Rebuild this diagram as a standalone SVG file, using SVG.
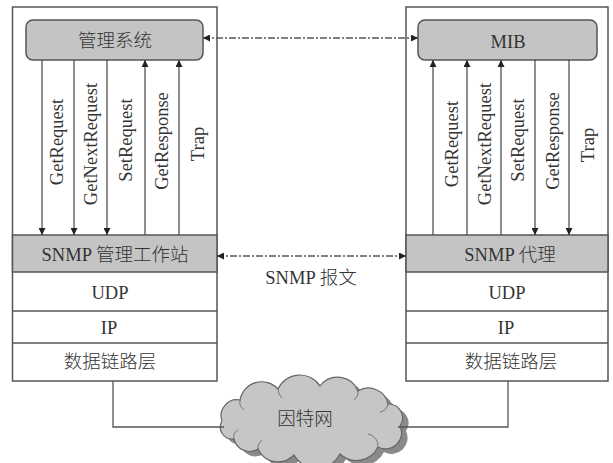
<svg xmlns="http://www.w3.org/2000/svg" width="613" height="463" viewBox="0 0 613 463">
<defs>
<marker id="ah" viewBox="0 0 10 10" refX="10" refY="5" markerWidth="7" markerHeight="7" markerUnits="userSpaceOnUse" orient="auto-start-reverse"><path d="M0,0 L10,5 L0,10 Z" fill="#222"/></marker>
<style>
.box{fill:#fff;stroke:#555;stroke-width:1.5}
.gray{fill:#c4c4c4;stroke:#555;stroke-width:1.5}
.ln{stroke:#555;stroke-width:1.3;fill:none}
.ar{stroke:#444;stroke-width:1.2;fill:none;marker-end:url(#ah)}
.dd{stroke:#555;stroke-width:1.3;fill:none;stroke-dasharray:7 2 2 2;marker-start:url(#ah);marker-end:url(#ah)}
text{font-family:"Liberation Serif","Noto Sans CJK SC",serif;font-size:18.5px;fill:#333;text-anchor:middle;font-weight:300}
</style>
</defs>
<rect width="613" height="463" fill="#fff"/>
<g id="manager">
<rect class="box" x="12.5" y="7" width="204.5" height="374"/>
<rect class="gray" x="26" y="20" width="177" height="40" rx="7"/>
<text x="115" y="47">管理系统</text>
<rect class="gray" x="12.5" y="235" width="204.5" height="37"/>
<text x="115" y="261">SNMP 管理工作站</text>
<line class="ln" x1="12.5" y1="311" x2="217" y2="311"/>
<line class="ln" x1="12.5" y1="343" x2="217" y2="343"/>
<text x="110" y="299">UDP</text>
<text x="109" y="334">IP</text>
<text x="110" y="368">数据链路层</text>
</g>
<g id="agent">
<rect class="box" x="406" y="7" width="202" height="374"/>
<rect class="gray" x="418" y="20" width="179" height="40" rx="7"/>
<text x="508" y="48">MIB</text>
<rect class="gray" x="406" y="235" width="202" height="37"/>
<text x="510" y="261">SNMP 代理</text>
<line class="ln" x1="406" y1="311" x2="608" y2="311"/>
<line class="ln" x1="406" y1="343" x2="608" y2="343"/>
<text x="507" y="299">UDP</text>
<text x="506" y="334">IP</text>
<text x="511" y="368">数据链路层</text>
</g>
<g id="internet">
<path transform="translate(6,5)" fill="#8a8a8a" d="M222,421 A16,16 0 0 1 240,400 A22,22 0 0 1 278,389 A24,24 0 0 1 320,386 A22,22 0 0 1 358,391 A20,20 0 0 1 388,404 A14,14 0 0 1 400,426 A16,16 0 0 1 378,447 A24,24 0 0 1 340,454 A26,26 0 0 1 294,455 A22,22 0 0 1 258,449 A16,16 0 0 1 234,439 A12,12 0 0 1 222,421 Z"/>
<path fill="#c6c6c6" stroke="#666" stroke-width="1.2" d="M222,421 A16,16 0 0 1 240,400 A22,22 0 0 1 278,389 A24,24 0 0 1 320,386 A22,22 0 0 1 358,391 A20,20 0 0 1 388,404 A14,14 0 0 1 400,426 A16,16 0 0 1 378,447 A24,24 0 0 1 340,454 A26,26 0 0 1 294,455 A22,22 0 0 1 258,449 A16,16 0 0 1 234,439 A12,12 0 0 1 222,421 Z"/>
<path fill="none" stroke="#777" stroke-width="1" d="M240,400 A10,10 0 0 0 244,410 M278,389 A12,12 0 0 0 282,398 M358,391 A10,10 0 0 1 354,400 M388,404 A10,10 0 0 1 380,412 M378,447 A12,12 0 0 0 368,434 M258,449 A10,10 0 0 1 262,440 M234,439 A8,8 0 0 1 238,430"/>
<text x="305" y="425">因特网</text>
</g>
<g id="connectors">
<line class="ar" x1="42" y1="60" x2="42" y2="235"/>
<line class="ar" x1="74" y1="60" x2="74" y2="235"/>
<line class="ar" x1="107" y1="60" x2="107" y2="235"/>
<line class="ar" x1="145" y1="235" x2="145" y2="60"/>
<line class="ar" x1="179" y1="235" x2="179" y2="60"/>
<line class="ar" x1="433" y1="235" x2="433" y2="60"/>
<line class="ar" x1="467" y1="235" x2="467" y2="60"/>
<line class="ar" x1="501" y1="235" x2="501" y2="60"/>
<line class="ar" x1="535" y1="60" x2="535" y2="235"/>
<line class="ar" x1="569" y1="60" x2="569" y2="235"/>
<line class="dd" x1="203" y1="38" x2="418" y2="38"/>
<line class="dd" x1="217" y1="256" x2="406" y2="256"/>
<polyline class="ln" points="113,381 113,427 224,427"/>
<polyline class="ln" points="508,381 508,427 398,427"/>
</g>
<g id="labels">
<text transform="translate(63,142) rotate(-90)">GetRequest</text>
<text transform="translate(97,144) rotate(-90)">GetNextRequest</text>
<text transform="translate(132,140) rotate(-90)">SetRequest</text>
<text transform="translate(168,141) rotate(-90)">GetResponse</text>
<text transform="translate(204,144) rotate(-90)">Trap</text>
<text transform="translate(458,144) rotate(-90)">GetRequest</text>
<text transform="translate(491,144) rotate(-90)">GetNextRequest</text>
<text transform="translate(524,140) rotate(-90)">SetRequest</text>
<text transform="translate(559,141) rotate(-90)">GetResponse</text>
<text transform="translate(594,145) rotate(-90)">Trap</text>
<text x="311" y="284">SNMP 报文</text>
</g>
</svg>
